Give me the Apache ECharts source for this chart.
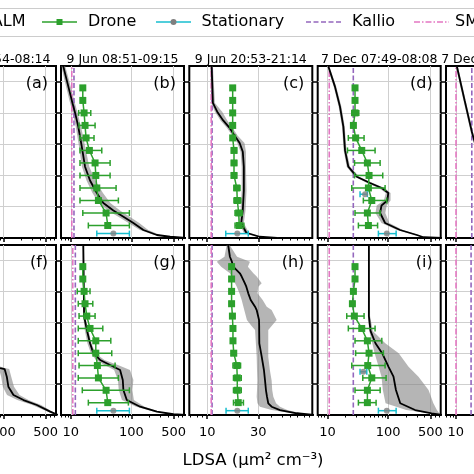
<!DOCTYPE html>
<html><head><meta charset="utf-8">
<script src="https://cdn.jsdelivr.net/npm/echarts@6/dist/echarts.min.js"></script>
<style>html,body{margin:0;padding:0;background:#fff}#c{width:474px;height:474px}</style>
</head><body><div id="c"></div>
<script>
// ---------------- DATA ----------------
const panelIds = ['a','b','c','d','e','f','g','h','i','j'];
const titles = ['9 Jun 07:54-08:14','9 Jun 08:51-09:15','9 Jun 20:53-21:14','7 Dec 07:49-08:08','7 Dec 08:41-09:02'];
const xLabelText = 'LDSA (\u00b5m\u00b2 cm\u207b\u00b3)';
const legendNames = ['PALM','Drone','Stationary','Kallio','SMEAR III'];

const logRange = [6.9, 740];
const narrowRange = [6.8, 96];
const altRange = [0, 137.5];
const logMajor = [10, 100, 500];
const logMinor = [7,8,9,20,30,40,50,60,70,80,90,200,300,400,600,700];
const narrowMajor = [10, 30];
const narrowMinor = [7,8,9,20,40,50,60,70,80,90];
const altTicks = [25, 50, 75, 100, 125];

// reference stations (constant LDSA), per panel a..j
const kallio = [12.0, 11.3, 11.1, 26.7, 18.4, 12.0, 11.9, 11.1, 26.7, 17.9];
const smear  = [10.5, 10.4, 10.9, 10.7, 10.1, 10.5, 10.8, 10.9, 10.7, 10.1];

// drone profile altitudes (m) and [mean, low, high]
const droneAlt = [120,110,100,90,80,70,60,50,40,30,20,10];
const drone_b = [[15.8,14.8,16.9],[15.8,14.8,16.9],[16.6,13.5,21.4],[17.2,13.7,25.2],[17.9,14.2,24.2],[20.3,14.2,32.5],[25.2,14.2,44.6],[25.9,14.2,44.6],[26.9,14.2,56],[28.6,14.2,61.1],[38.3,15.8,92.9],[40.8,19.5,92.9]];
const drone_c = [[17.3,16.6,18.0],[17.3,16.6,18.0],[17.3,16.6,18.0],[17.3,16.6,18.0],[17.3,16.6,18.0],[17.8,16.9,18.8],[17.8,16.9,18.8],[17.8,16.9,18.8],[18.9,17.8,20.2],[19.1,17.8,20.6],[19.7,18.2,21.2],[19.9,18.2,22.0]];
const drone_d = [[28.5,27,30],[28.5,27,30],[28.5,25.2,32.9],[26.8,25.5,28.2],[29.2,22.1,40.2],[36.8,21.4,61.1],[45.6,28,74],[48.6,28,81.8],[47.4,25.2,89.4],[53.9,39.1,95.4],[45.6,28.5,74],[47.4,32.4,67.2]];
const drone_g = [[15.8,14.8,16.9],[15.8,14.8,16.9],[16.6,12.8,20.8],[17.2,13.3,23.1],[18.4,13.7,25.2],[20.8,13.3,33.8],[25.9,13.3,45.8],[25.9,13.3,47.5],[27.5,13.7,53.9],[28.6,13.3,61.1],[38.3,15.5,92.9],[40.8,19.5,89.4]];
const drone_h = [[16.9,16.2,17.6],[16.9,16.2,17.6],[16.9,16.2,17.6],[16.9,16.2,17.6],[17.2,16.4,18.0],[17.4,16.6,18.2],[17.4,16.6,18.3],[17.7,16.8,18.6],[18.9,17.4,20.5],[19.1,17.6,20.8],[19.1,17.6,20.8],[19.5,17.6,21.8]];
const drone_i = [[28.5,27,30],[28.5,27,30],[26.8,25,28.6],[25.8,24,27.6],[27.8,20.8,40.2],[36.8,22.1,61.1],[45.6,28.5,78.9],[48.6,29.2,83.8],[46.2,25.2,89.4],[53.9,38.3,92.9],[45.6,28.5,74],[45.6,32.4,63.5]];

// stationary: [alt, mean, low, high]
const stat_b = [[3.5,50.5,26.9,92.9]];
const stat_c = [[3.5,19.1,14.9,24.2]];
const stat_d = [[35,41.8,34.5,45.6],[3.5,95.4,69.3,136]];
const stat_g = [[3.5,50.5,26.9,92.9]];
const stat_h = [[3.5,19.1,15.0,24.2]];
const stat_i = [[35,39.1,34.5,44.6],[3.5,95.4,69.3,136]];

// PALM profiles: [alt, mean, low, high]
const palm_b = [[137.5,7.5,7.0,8.1],[126,8.6,7.9,9.4],[110,10.4,9.5,11.4],[100,11.8,10.8,13.0],[89,13.3,12.1,14.8],[73,15.2,13.7,17.3],[57,17.2,15.3,20.2],[46,20.8,18.2,25.5],[36,26.9,22.8,34],[28,34.5,29,45],[22,50.5,41,65],[17,74,61,94],[12,108,90,135],[6.4,158,138,190],[2.4,264,240,300],[1,437,410,480],[0,800,780,820]];
const palm_c = [[137.5,11.0,10.7,11.3],[108,11.3,10.9,11.8],[101,12.4,11.8,13.8],[94,14.1,13.3,15.4],[88,16.2,15.3,17.3],[82,18.0,17.1,19.2],[76,20.1,19.1,22.3],[69,21.5,20.5,23.0],[57,22.0,21.0,23.0],[38,22.0,21.0,23.3],[22,21.5,20.5,22.8],[12,20.8,19.8,22.0],[4.2,23.2,22.0,24.5],[1,30.8,29,33],[0,45,42,48]];
const palm_d = [[137.5,10.3,9.9,10.7],[121,13.3,12.7,14.0],[105,16.1,15.3,17.0],[89,18.3,17.4,19.3],[70,19.5,18.5,20.6],[57,22.1,20.8,23.6],[49,30.5,28,33.5],[44,50.5,45,56],[40,78.8,70,88],[36,101,92,110],[30,97.5,85,110],[26,78,65,95],[20,74,62,90],[12,89.4,78,105],[6.4,158,140,175],[2.4,299,280,320],[0.6,384,370,400],[0,800,780,820]];
const palm_e = [[137.5,10.4,10.0,10.8],[110,14.0,13.4,14.6],[85,18.4,17.6,19.2],[65,24,23,25],[40,40,36,45],[10,150,130,170],[0,700,650,750]];
const palm_f = [[137.5,12,11,13],[60,20,18,23],[45,30,26,36],[40.5,60,50,75],[38,88,72,105],[37.2,105,85,125],[31,114,92,135],[22.9,121,98,150],[16.2,147,115,185],[12.1,215,170,260],[8.1,357,300,420],[2.7,593,540,650],[0,800,780,820]];
const palm_g = [[137.5,16.1,15.7,16.5],[80,16.6,16.0,17.3],[69,18.4,17.0,19.5],[58,20.8,18.8,22.0],[50,23.6,21.5,25.5],[44.5,30.5,26,36],[40.4,44.6,36,60],[36.4,65.2,52,95],[28.3,72.2,60,108],[20.2,73.9,62,104],[12.1,84.1,70,110],[6.7,139.6,120,165],[2.7,264,240,290],[0.6,496,470,520],[0,800,780,820]];
const palm_h = [[137.5,15.7,15.2,16.2],[128,16.3,14.5,19],[124,17.0,12.3,25.1],[120,17.5,13.5,24],[114.6,20.2,16.3,27],[112,21.0,17.0,29.0],[106.5,22.5,18.2,32.3],[103.8,23.2,18.9,30],[98.4,24.2,20.0,29.5],[93,25.5,21.0,33],[87.6,28,21.8,36],[84.9,29.0,22.2,40],[76.8,30.5,23.5,44.6],[72,30.6,26,40],[68.7,30.6,28,37.2],[58,30.7,28.5,37.2],[47.2,32.3,29,37.2],[36.4,33.9,29.2,38.5],[28,34.7,29.4,40],[20.2,35.4,29.2,40.5],[14.8,36.2,29,41.5],[9.5,37.2,29.5,44],[6.7,40,31.1,47.9],[4,47.9,40,56],[1.4,68.6,62,75],[0,100,95,105]];
const palm_i = [[137.5,48.3,47,49.6],[80,48.3,46.5,50.5],[68,51.4,49,56],[58,62,55,90],[50,79.9,60,150],[39,102,70,218],[31,123,78,318],[20.2,135,82,466],[9.5,159,91,560],[4,280,200,640],[1.4,524,480,700],[0,800,780,820]];

// ---------------- LAYOUT / STYLE ----------------
const FONT = '"DejaVu Sans", "Liberation Sans", sans-serif';
const colLeft = [-67, 61, 189.3, 317.7, 446];
const colW = 123;
const rowTop = [66, 245];
const rowH = [172, 170];
const titleShift = [0, 0, 0, 0, -8];
const C_DRONE = '#2ca02c', C_STAT = '#17becf', C_STATM = '#7f7f7f', C_KAL = '#9467bd', C_SM = '#e377c2';

const panels = [
  {row:0,col:0,narrow:false},
  {row:0,col:1,narrow:false,palm:palm_b,drone:drone_b,stat:stat_b},
  {row:0,col:2,narrow:true,palm:palm_c,drone:drone_c,stat:stat_c},
  {row:0,col:3,narrow:false,palm:palm_d,drone:drone_d,stat:stat_d},
  {row:0,col:4,narrow:false,palm:palm_e},
  {row:1,col:0,narrow:false,palm:palm_f},
  {row:1,col:1,narrow:false,palm:palm_g,drone:drone_g,stat:stat_g},
  {row:1,col:2,narrow:true,palm:palm_h,drone:drone_h,stat:stat_h},
  {row:1,col:3,narrow:false,palm:palm_i,drone:drone_i,stat:stat_i},
  {row:1,col:4,narrow:false}
];

const grids = [], xAxes = [], yAxes = [], series = [];

function errSeries(k, rows, color, z) {
  return {
    type:'custom', xAxisIndex:2*k, yAxisIndex:2*k, z:z, clip:true, silent:true,
    data: rows.map(r => [r[0], r[1], r[2]]),
    encode:{x:[1,2], y:0},
    renderItem: function(params, api) {
      const a = api.coord([api.value(1), api.value(0)]);
      const b = api.coord([api.value(2), api.value(0)]);
      const h = 3;
      const st = {stroke:color, lineWidth:1.5};
      return {type:'group', children:[
        {type:'line', shape:{x1:a[0],y1:a[1],x2:b[0],y2:b[1]}, style:st},
        {type:'line', shape:{x1:a[0],y1:a[1]-h,x2:a[0],y2:a[1]+h}, style:st},
        {type:'line', shape:{x1:b[0],y1:b[1]-h,x2:b[0],y2:b[1]+h}, style:st}
      ]};
    }
  };
}

function bandSeries(k, rows) {
  return {
    type:'custom', xAxisIndex:2*k, yAxisIndex:2*k, z:1, clip:true, silent:true,
    data: rows.map(r => [r[0], r[2], r[3]]),
    encode:{x:[1,2], y:0},
    renderItem: function(params, api) {
      if (params.dataIndex !== 0) return null;
      const pts = [];
      rows.forEach(r => pts.push(api.coord([r[2], r[0]])));
      rows.slice().reverse().forEach(r => pts.push(api.coord([r[3], r[0]])));
      const cs = params.coordSys;
      const clipped = echarts.graphic.clipPointsByRect(pts, {x:cs.x, y:cs.y, width:cs.width, height:cs.height});
      return {type:'polygon', shape:{points:clipped}, style:{fill:'rgba(128,128,128,0.58)'}};
    }
  };
}

panels.forEach((p, k) => {
  const range = p.narrow ? narrowRange : logRange;
  const major = p.narrow ? narrowMajor : logMajor;
  const minor = p.narrow ? narrowMinor : logMinor;
  grids.push({left:colLeft[p.col], top:rowTop[p.row], width:colW, height:rowH[p.row],
    show:true, borderColor:'#000', borderWidth:2, backgroundColor:'transparent',
    containLabel:false, outerBoundsMode:'none'});
  xAxes.push({type:'log', logBase:10, gridIndex:k, min:range[0], max:range[1], position:'bottom',
    axisLine:{show:false,onZero:false},
    axisTick:{show:true, inside:false, customValues:major, length:4, lineStyle:{color:'#000',width:1.5}},
    axisLabel:{show:p.row===1, customValues:major, margin:11, color:'#000', fontSize:13, fontFamily:FONT, formatter:v=>String(v)},
    splitLine:{show:true, lineStyle:{color:'#cfcfcf', width:1}},
    minorTick:{show:false}, minorSplitLine:{show:false}});
  xAxes.push({type:'log', logBase:10, gridIndex:k, min:range[0], max:range[1], position:'bottom',
    axisLine:{show:false,onZero:false},
    axisTick:{show:true, inside:false, customValues:minor, length:2.5, lineStyle:{color:'#000',width:1}},
    axisLabel:{show:false}, splitLine:{show:false}});
  yAxes.push({type:'value', gridIndex:k, min:altRange[0], max:altRange[1], position:'left',
    axisLine:{show:false,onZero:false},
    axisTick:{show:true, inside:false, customValues:altTicks, length:4, lineStyle:{color:'#000',width:1.5}},
    axisLabel:{show:false},
    splitLine:{show:true, lineStyle:{color:'#cfcfcf', width:1}}});
  yAxes.push({type:'value', gridIndex:k, min:altRange[0], max:altRange[1], position:'right',
    axisLine:{show:false,onZero:false},
    axisTick:{show:true, inside:false, customValues:altTicks, length:4, lineStyle:{color:'#000',width:1.5}},
    axisLabel:{show:false}, splitLine:{show:false}});

  if (p.palm) series.push(bandSeries(k, p.palm));
  series.push({type:'line', xAxisIndex:2*k, yAxisIndex:2*k, z:2, silent:true, symbol:'none', clip:true,
    data:[[kallio[k], altRange[0]],[kallio[k], altRange[1]]],
    lineStyle:{color:C_KAL, width:1.6, type:[5,2.5]}});
  series.push({type:'line', xAxisIndex:2*k, yAxisIndex:2*k, z:2, silent:true, symbol:'none', clip:true,
    data:[[smear[k], altRange[0]],[smear[k], altRange[1]]],
    lineStyle:{color:C_SM, width:1.6, type:[6,2,1.5,2]}});
  if (p.palm) series.push({type:'line', xAxisIndex:2*k, yAxisIndex:2*k, z:3, silent:true, symbol:'none', clip:true,
    data:p.palm.map(r => [r[1], r[0]]), lineStyle:{color:'#000', width:1.8}});
  if (p.drone) {
    series.push(errSeries(k, p.drone.map((d,i) => [droneAlt[i], d[1], d[2]]), C_DRONE, 4));
    series.push({type:'line', xAxisIndex:2*k, yAxisIndex:2*k, z:5, silent:true, clip:true,
      data:p.drone.map((d,i) => [d[0], droneAlt[i]]),
      symbol:'rect', symbolSize:7, itemStyle:{color:C_DRONE}, lineStyle:{color:C_DRONE, width:1.5}});
  }
  if (p.stat) {
    series.push(errSeries(k, p.stat.map(s => [s[0], s[2], s[3]]), C_STAT, 6));
    series.push({type:'scatter', xAxisIndex:2*k, yAxisIndex:2*k, z:7, silent:true,
      data:p.stat.map(s => [s[1], s[0]]), symbol:'circle', symbolSize:6, itemStyle:{color:C_STATM}});
  }
});

// ---------------- GRAPHICS (legend, titles, panel letters, axis name) ----------------
const G = [];
const T = (text, x, y, size, align) => ({type:'text', z:20, silent:true,
  style:{text:text, x:x, y:y, fontSize:size, fontFamily:FONT, fill:'#000',
    align:align||'center', verticalAlign:'middle', textAlign:align||'center', textVerticalAlign:'middle'}});
// legend frame
G.push({type:'rect', z:15, silent:true, shape:{x:-20, y:8.5, width:514, height:28, r:4}, style:{fill:'#fff', stroke:'#cccccc', lineWidth:1}});
G.push(T(legendNames[0], 25.5, 22, 16, 'right'));
G.push({type:'line', z:20, shape:{x1:42,y1:22,x2:77,y2:22}, style:{stroke:C_DRONE, lineWidth:1.6}});
G.push({type:'rect', z:21, shape:{x:56.5,y:19,width:6,height:6}, style:{fill:C_DRONE}});
G.push(T(legendNames[1], 88, 22, 16, 'left'));
G.push({type:'line', z:20, shape:{x1:156,y1:22,x2:191,y2:22}, style:{stroke:C_STAT, lineWidth:1.6}});
G.push({type:'circle', z:21, shape:{cx:173.5,cy:22,r:3}, style:{fill:C_STATM}});
G.push(T(legendNames[2], 201.5, 22, 16, 'left'));
G.push({type:'line', z:20, shape:{x1:306,y1:22,x2:341,y2:22}, style:{stroke:C_KAL, lineWidth:1.6, lineDash:[5,2.5]}});
G.push(T(legendNames[3], 352, 22, 16, 'left'));
G.push({type:'line', z:20, shape:{x1:414,y1:22,x2:449,y2:22}, style:{stroke:C_SM, lineWidth:1.6, lineDash:[6,2,1.5,2]}});
G.push(T(legendNames[4], 455, 22, 16, 'left'));
// column titles
titles.forEach((t, c) => G.push(T(t, colLeft[c] + colW/2 + titleShift[c], 59.5, 12.5, 'center')));
// panel letters
panels.forEach((p, k) => {
  if (p.col === 4) return;
  G.push(T('(' + panelIds[k] + ')', colLeft[p.col] + colW - 8, p.row === 0 ? 84 : 263, 16, 'right'));
});
// x axis name
G.push(T(xLabelText, 253, 461, 16.5, 'center'));

const chart = echarts.init(document.getElementById('c'), null, {renderer:'canvas', width:474, height:474});
chart.setOption({
  animation:false, backgroundColor:'#fff',
  grid:grids, xAxis:xAxes, yAxis:yAxes, series:series,
  graphic:{elements:G}
});
</script></body></html>
